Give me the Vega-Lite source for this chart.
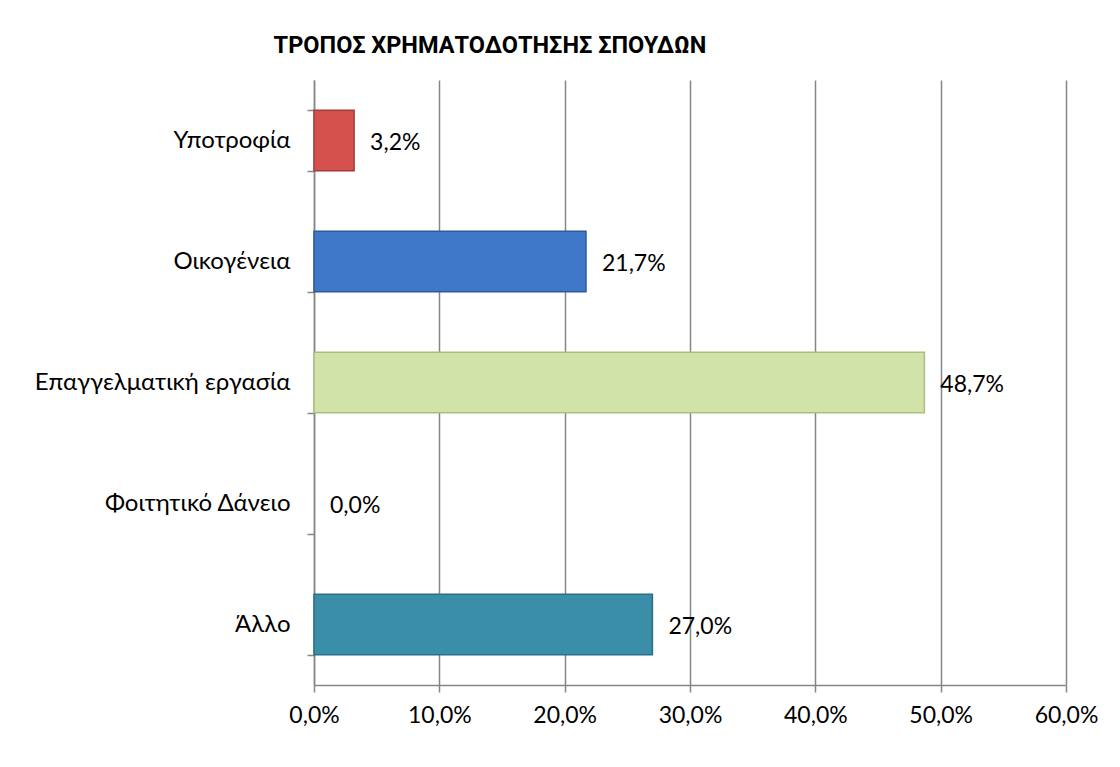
{
  "$schema": "https://vega.github.io/schema/vega-lite/v6.json",
  "width": 752,
  "height": 605,
  "autosize": {"type": "none"},
  "padding": {"left": 314, "top": 80, "right": 54, "bottom": 82},
  "background": "white",
  "config": {
    "locale": {"number": {"decimal": ",", "thousands": ".", "grouping": [3], "currency": ["", " €"]}},
    "view": {"stroke": null},
    "font": "Lato"
  },
  "title": {
    "text": "ΤΡΟΠΟΣ ΧΡΗΜΑΤΟΔΟΤΗΣΗΣ ΣΠΟΥΔΩΝ",
    "font": "Roboto",
    "fontSize": 23.5,
    "fontWeight": "bold",
    "color": "#000000",
    "anchor": "middle",
    "dx": -200,
    "offset": 11
  },
  "data": {
    "values": [
      {"category": "Υποτροφία", "value": 0.032},
      {"category": "Οικογένεια", "value": 0.217},
      {"category": "Επαγγελματική εργασία", "value": 0.487},
      {"category": "Φοιτητικό Δάνειο", "value": 0.0},
      {"category": "Άλλο", "value": 0.27}
    ]
  },
  "encoding": {
    "y": {
      "field": "category",
      "type": "nominal",
      "sort": null,
      "scale": {"paddingInner": 0.5, "paddingOuter": 0.25},
      "axis": {
        "title": null,
        "domainColor": "#868686",
        "domainWidth": 1.5,
        "tickColor": "#868686",
        "tickWidth": 1.5,
        "tickSize": 7,
        "tickBand": "extent",
        "labelFont": "Lato",
        "labelFontSize": 24,
        "labelColor": "#000000",
        "labelPadding": 17,
        "labelLimit": 0
      }
    },
    "x": {
      "field": "value",
      "type": "quantitative",
      "scale": {"domain": [0, 0.6]},
      "axis": {
        "title": null,
        "values": [0, 0.1, 0.2, 0.3, 0.4, 0.5, 0.6],
        "format": ".1%",
        "grid": true,
        "gridColor": "#868686",
        "gridWidth": 1.5,
        "domainColor": "#868686",
        "domainWidth": 1.5,
        "tickColor": "#868686",
        "tickWidth": 1.5,
        "tickSize": 7,
        "labelFont": "Lato",
        "labelFontSize": 23,
        "labelColor": "#000000",
        "labelPadding": 12,
        "labelFlush": false
      }
    }
  },
  "layer": [
    {
      "mark": {"type": "bar", "strokeWidth": 1.5},
      "encoding": {
        "color": {
          "field": "category",
          "type": "nominal",
          "legend": null,
          "scale": {
            "domain": ["Υποτροφία", "Οικογένεια", "Επαγγελματική εργασία", "Φοιτητικό Δάνειο", "Άλλο"],
            "range": ["#d4514e", "#3f78c8", "#d2e3a9", "transparent", "#3a8ea8"]
          }
        },
        "stroke": {
          "field": "category",
          "type": "nominal",
          "legend": null,
          "scale": {
            "domain": ["Υποτροφία", "Οικογένεια", "Επαγγελματική εργασία", "Φοιτητικό Δάνειο", "Άλλο"],
            "range": ["#a33b39", "#2c5a9a", "#a9bf80", "transparent", "#2a6f84"]
          }
        }
      }
    },
    {
      "mark": {"type": "text", "align": "left", "dx": 16, "dy": 2, "fontSize": 23, "font": "Lato", "color": "#000000"},
      "encoding": {
        "text": {"field": "value", "type": "quantitative", "format": ".1%"}
      }
    }
  ]
}
